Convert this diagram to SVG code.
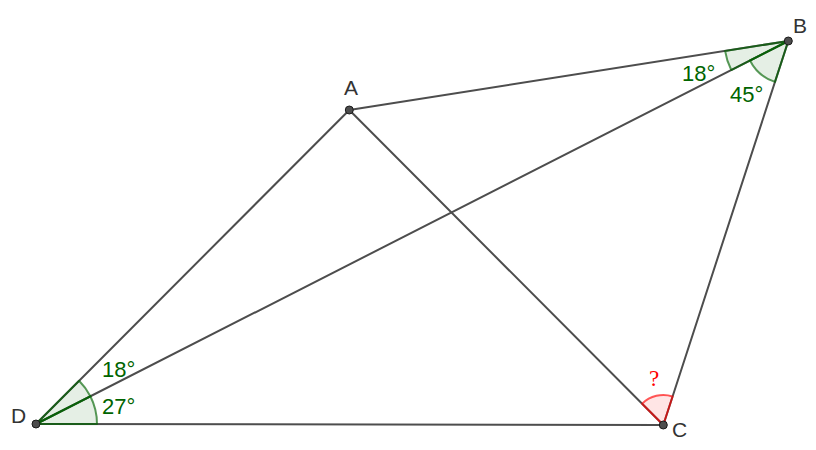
<svg xmlns="http://www.w3.org/2000/svg" width="816" height="450" viewBox="0 0 816 450">
<style>
.seg{stroke:#4d4d4d;stroke-width:2;fill:none;stroke-linecap:round}
.ang{fill:#006400;fill-opacity:0.1;stroke:#006400;stroke-opacity:0.65;stroke-width:2;stroke-linejoin:round}
.angr{fill:#ff0000;fill-opacity:0.1;stroke:#ff0000;stroke-opacity:0.65;stroke-width:2;stroke-linejoin:round}
.pt{fill:#4d4d4d;stroke:#1a1a1a;stroke-width:1}
.lbl{font-family:"Liberation Sans",Arial,sans-serif;font-size:21px;fill:#333333}
.albl{font-family:"Liberation Sans",Arial,sans-serif;font-size:22px;fill:#006400}
.q{font-family:"Liberation Serif","Times New Roman",serif;font-size:23px;fill:#ff0000}
</style>
<rect width="816" height="450" fill="#ffffff"/>
<g id="connectors">
<line class="seg" x1="36" y1="424" x2="349.3" y2="110"/>
<line class="seg" x1="349.3" y1="110" x2="788.3" y2="41"/>
<line class="seg" x1="788.3" y1="41" x2="663.3" y2="425"/>
<line class="seg" x1="663.3" y1="425" x2="36" y2="424"/>
<line class="seg" x1="349.3" y1="110" x2="663.3" y2="425"/>
<line class="seg" x1="36" y1="424" x2="788.3" y2="41"/>
</g>
<g id="angles">
<path id="angle-D-27" class="ang" d="M36,424 L97,424 A61,61 0 0 0 90.36,396.32 Z"/>
<path id="angle-D-18" class="ang" d="M36,424 L90.36,396.32 A61,61 0 0 0 79.08,380.82 Z"/>
<path id="angle-B-18" class="ang" d="M788.3,41 L725.08,50.94 A64,64 0 0 0 731.27,70.04 Z"/>
<path id="angle-B-45" class="ang" d="M788.3,41 L749.98,60.51 A43,43 0 0 0 774.99,81.89 Z"/>
<path id="angle-C" class="angr" d="M663.3,425 L642.12,403.75 A30,30 0 0 1 672.59,396.47 Z"/>
</g>
<g id="node-A"><circle class="pt" cx="349.3" cy="110" r="4"/><text class="lbl" x="344" y="95">A</text></g>
<g id="node-B"><circle class="pt" cx="788.3" cy="41" r="4"/><text class="lbl" x="793" y="33">B</text></g>
<g id="node-C"><circle class="pt" cx="663.3" cy="425" r="4"/><text class="lbl" x="672" y="437">C</text></g>
<g id="node-D"><circle class="pt" cx="36" cy="424" r="4"/><text class="lbl" x="11" y="423">D</text></g>
<g id="labels">
<text class="albl" x="682" y="81">18°</text>
<text class="albl" x="730" y="102">45°</text>
<text class="albl" x="102" y="377">18°</text>
<text class="albl" x="102" y="414">27°</text>
<text class="q" x="649" y="386">?</text>
</g>
</svg>
